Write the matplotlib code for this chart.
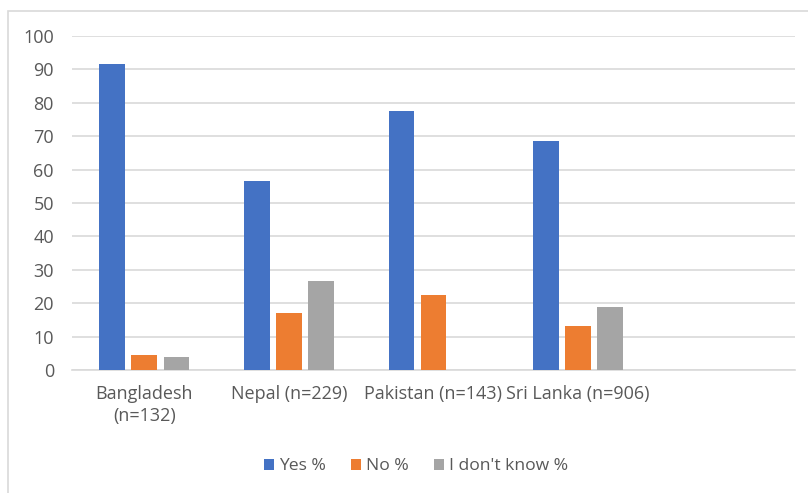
import numpy as np
import matplotlib
matplotlib.use("Agg")
import matplotlib.pyplot as plt
from matplotlib.patches import Rectangle

plt.rcParams['font.family'] = ['Open Sans', 'DejaVu Sans']

categories = ["Bangladesh\n(n=132)", "Nepal (n=229)", "Pakistan (n=143)", "Sri Lanka (n=906)", ""]
series_names = ["Yes %", "No %", "I don't know %"]
yes_pct = [91.6, 56.5, 77.6, 68.5, 0]
no_pct = [4.6, 17.0, 22.4, 13.1, 0]
dont_know_pct = [3.9, 26.6, 0, 18.9, 0]
colors = ["#4472C4", "#ED7D31", "#A5A5A5"]

fig = plt.figure(figsize=(8.08, 4.93), dpi=100)
ax = fig.add_axes([0.0891, 0.2495, 0.8948, 0.6775])

# outer chart border
fig.patches.append(Rectangle((8 / 808, -0.01), 1.1, 1 - 11 / 493 + 0.01, transform=fig.transFigure,
                             fill=False, edgecolor="#d9d9d9", linewidth=1.2))

x = np.arange(len(categories))
step = 0.222
width = 0.177
for i, (vals, name) in enumerate(zip([yes_pct, no_pct, dont_know_pct], series_names)):
    ax.bar(x + (i - 1) * step, vals, width, color=colors[i], label=name, zorder=3)

ax.set_xlim(-0.5, len(categories) - 0.5)
ax.set_ylim(0, 100)
ax.set_yticks(range(0, 101, 10))
ax.yaxis.grid(True, color="#d9d9d9", linewidth=1.2, zorder=0)
ax.set_axisbelow(True)
for s in ["top", "right", "left"]:
    ax.spines[s].set_visible(False)
ax.spines["bottom"].set_color("#d9d9d9")
ax.spines["bottom"].set_linewidth(1.2)
ax.tick_params(axis="both", length=0, colors="#595959", labelsize=13)
ax.tick_params(axis="y", pad=13)
ax.tick_params(axis="x", pad=11)
ax.set_xticks(x)
ax.set_xticklabels(categories, linespacing=1.3)

ax.legend(loc="center", bbox_to_anchor=(0.515, 0.054), bbox_transform=fig.transFigure,
          ncol=3, frameon=False, fontsize=12.6, handlelength=0.6, handleheight=0.6,
          handletextpad=0.3, columnspacing=1.4, labelcolor="#595959")

fig.savefig("out.png", dpi=100)
